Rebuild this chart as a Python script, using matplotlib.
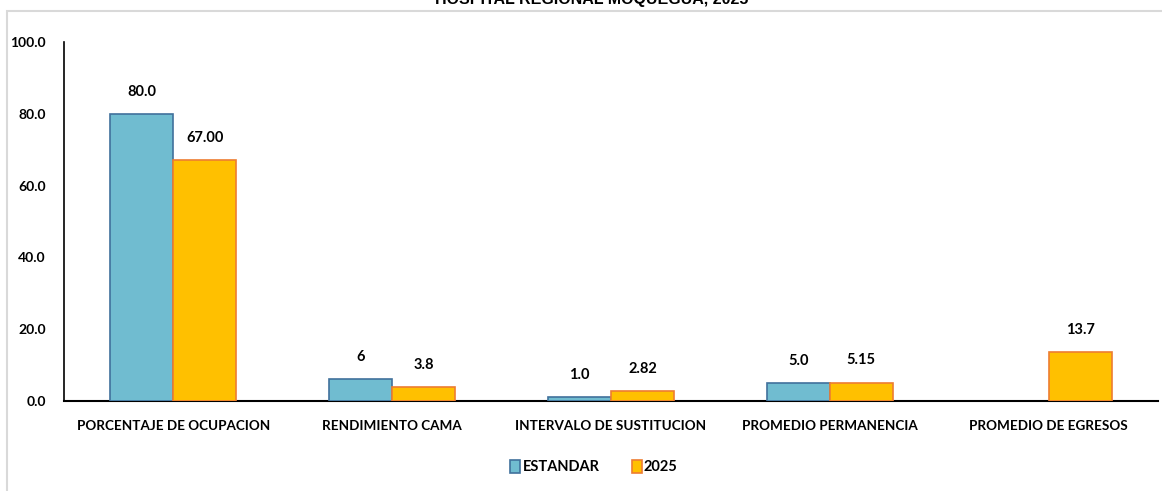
import numpy as np
import matplotlib
matplotlib.use("Agg")
import matplotlib.pyplot as plt
from matplotlib.patches import Rectangle

plt.rcParams.update({"font.family": ["Lato", "DejaVu Sans"],
                     "font.weight": "bold"})

categories = ["PORCENTAJE DE OCUPACION", "RENDIMIENTO CAMA", "INTERVALO DE SUSTITUCION",
              "PROMEDIO PERMANENCIA", "PROMEDIO DE EGRESOS"]
estandar = [80.0, 6, 1.0, 5.0, None]
estandar_lbl = ["80.0", "6", "1.0", "5.0", ""]
y2025 = [67.00, 3.8, 2.82, 5.15, 13.7]
y2025_lbl = ["67.00", "3.8", "2.82", "5.15", "13.7"]
yticks = [0, 20, 40, 60, 80, 100]

BLUE = "#70BCD0"; BLUE_E = "#41719C"
ORNG = "#FFC000"; ORNG_E = "#ED7D31"

fig = plt.figure(figsize=(11.62, 4.91), dpi=100)
ax = fig.add_axes([64/1162, 1-401/491, (1158-64)/1162, (401-42)/491])

# outer chart border (light gray), top edge and left edge visible
fig.add_artist(Rectangle((7/1162, -0.05), 1.2, 1-11/491+0.05, transform=fig.transFigure,
                         fill=False, edgecolor="#d9d9d9", lw=1.5))

x = np.arange(len(categories))
w = 0.2875
for i in range(len(categories)):
    if estandar[i] is not None:
        ax.bar(x[i]-w/2, estandar[i], w, color=BLUE, edgecolor=BLUE_E, lw=1.2, zorder=3)
        ax.text(x[i]-w/2, estandar[i]+4.2, estandar_lbl[i], ha="center", va="bottom",
                fontsize=10.5, fontweight="bold")
    ax.bar(x[i]+w/2, y2025[i], w, color=ORNG, edgecolor=ORNG_E, lw=1.2, zorder=3)
    ax.text(x[i]+w/2, y2025[i]+4.2, y2025_lbl[i], ha="center", va="bottom",
            fontsize=10.5, fontweight="bold")

ax.set_xlim(-0.5, len(categories)-0.5)
ax.set_ylim(0, 100)
ax.set_yticks(yticks)
ax.set_yticklabels([f"{v:.1f}" for v in yticks], fontsize=10, fontweight="bold")
ax.set_xticks(x)
ax.set_xticklabels(categories, fontsize=9.7, fontweight="bold")
ax.tick_params(axis="both", length=0)
ax.tick_params(axis="y", pad=13)
ax.tick_params(axis="x", pad=14)
ax.spines[["top", "right"]].set_visible(False)
ax.spines["left"].set_color("black")
ax.spines["bottom"].set_color("black")
ax.spines["left"].set_linewidth(1.2)
ax.spines["bottom"].set_linewidth(1.5)

h1 = Rectangle((0, 0), 1, 1, facecolor=BLUE, edgecolor=BLUE_E, lw=1.2)
h2 = Rectangle((0, 0), 1, 1, facecolor=ORNG, edgecolor=ORNG_E, lw=1.2)
fig.legend([h1, h2], ["ESTANDAR", "2025"], loc="center", bbox_to_anchor=(594/1162, 1-467/491),
           ncol=2, frameon=False, handlelength=0.7, handleheight=1.0,
           handletextpad=0.15, columnspacing=2.2, prop={"weight": "bold", "size": 10.5})

fig.text(592/1162, 1+1/491, "HOSPITAL REGIONAL MOQUEGUA, 2025", ha="center", va="center",
         fontsize=11.5, fontweight="bold", family="Liberation Sans")

fig.savefig("out.png", dpi=100, facecolor="white")
